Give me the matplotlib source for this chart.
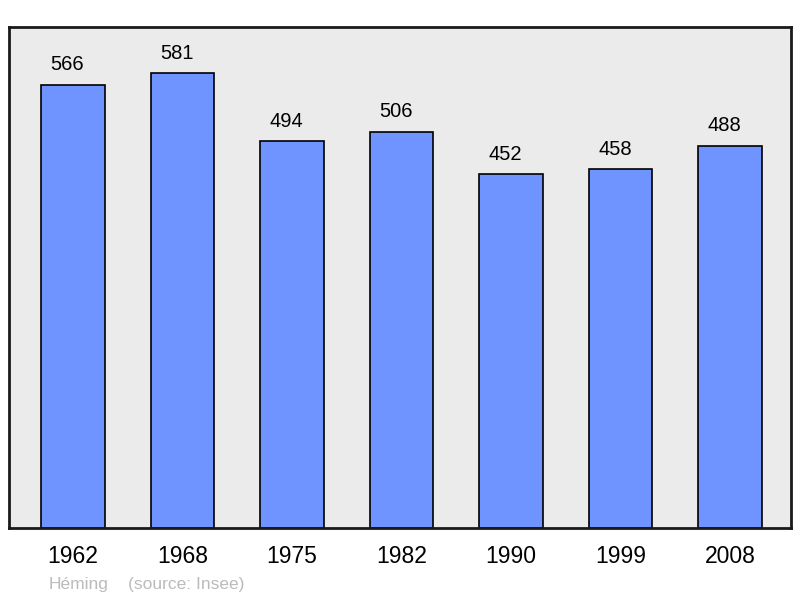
import matplotlib.pyplot as plt

plt.rcParams["font.family"] = ["Liberation Sans", "DejaVu Sans"]

years = ["1962", "1968", "1975", "1982", "1990", "1999", "2008"]
population = [566, 581, 494, 506, 452, 458, 488]

fig = plt.figure(figsize=(8, 5.98), dpi=100)
ax = fig.add_axes([9 / 800, 70 / 598, 782 / 800, 501 / 598])
ax.set_facecolor("#ebebeb")

x = range(len(years))
ax.bar(x, population, width=0.58, color="#7094ff", edgecolor="black", linewidth=1.2)
for i, v in zip(x, population):
    ax.annotate(str(v), (i, v), xytext=(-4, 10.5), textcoords="offset points",
                ha="center", va="baseline", fontsize=14.5)

ax.set_xlim(-0.585, 6.557)
ax.set_ylim(0, 640)
ax.set_yticks([])
ax.set_xticks(list(x))
ax.set_xticklabels(years, fontsize=16.5)
ax.tick_params(axis="x", length=0, pad=12)
for s in ax.spines.values():
    s.set_linewidth(2)
    s.set_color("#1a1a1a")

fig.text(49 / 800, 1 - 584 / 598, "Héming", color="#bbbbbb",
         fontsize=12.5, va="center", ha="left")
fig.text(128 / 800, 1 - 584 / 598, "(source: Insee)", color="#bbbbbb",
         fontsize=12.5, va="center", ha="left")

fig.savefig("out.png", dpi=100)
